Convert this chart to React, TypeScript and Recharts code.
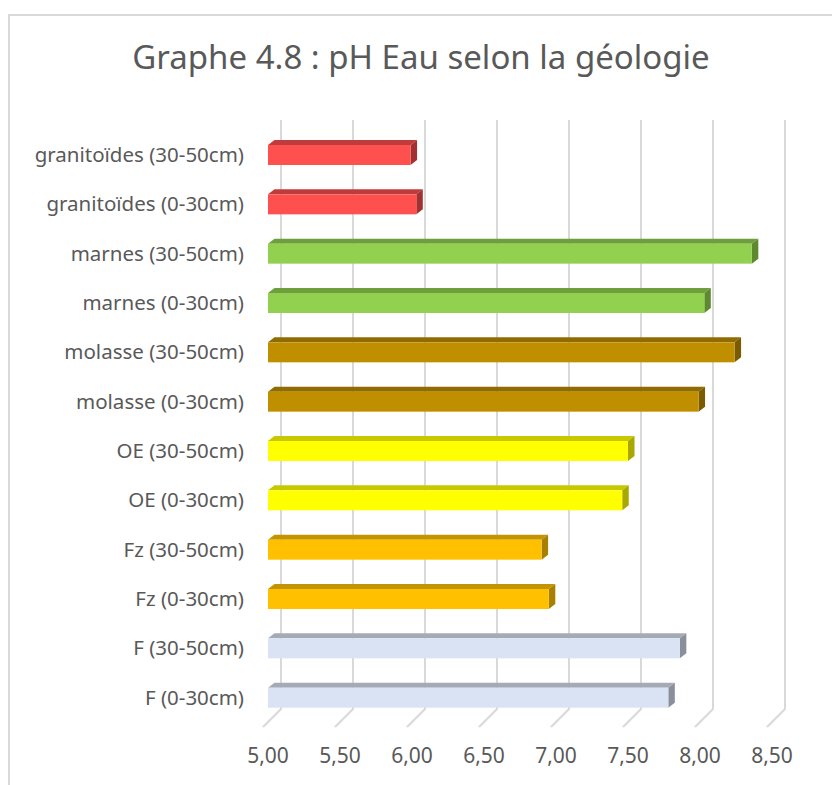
import { BarChart, Bar, XAxis, YAxis, CartesianGrid, Cell } from 'recharts';

// categories from top to bottom
const categories = [
  'granitoïdes (30-50cm)',
  'granitoïdes (0-30cm)',
  'marnes (30-50cm)',
  'marnes (0-30cm)',
  'molasse (30-50cm)',
  'molasse (0-30cm)',
  'OE (30-50cm)',
  'OE (0-30cm)',
  'Fz (30-50cm)',
  'Fz (0-30cm)',
  'F (30-50cm)',
  'F (0-30cm)',
];

const phEau = [5.99, 6.03, 8.36, 8.03, 8.24, 7.99, 7.5, 7.46, 6.9, 6.95, 7.86, 7.78];

const xTicks = [5, 5.5, 6, 6.5, 7, 7.5, 8, 8.5];

// front / top / side shades per geology
const palette = {
  granitoides: ['#FF5050', '#C03B3B', '#A33131'],
  marnes: ['#92D050', '#6F9E3C', '#5E8A2F'],
  molasse: ['#BF8F00', '#8F6B00', '#7A5B00'],
  OE: ['#FFFF00', '#C8C800', '#A8A800'],
  Fz: ['#FFC000', '#C49300', '#A88000'],
  F: ['#DAE3F3', '#A4AAB6', '#8A909B'],
};
const barColors = [
  palette.granitoides, palette.granitoides,
  palette.marnes, palette.marnes,
  palette.molasse, palette.molasse,
  palette.OE, palette.OE,
  palette.Fz, palette.Fz,
  palette.F, palette.F,
];

const data = categories.map((name, i) => ({ name, value: phEau[i], idx: i }));

const FONT = '"Noto Sans", sans-serif';
const TEXT = '#595959';
const DX = 6.5;
const DY = 5;

const Bar3D = (props: any) => {
  const { x, y, width, height, payload } = props;
  const [front, top, side] = barColors[payload.idx];
  return (
    <g>
      <polygon
        points={`${x},${y} ${x + DX},${y - DY} ${x + width + DX},${y - DY} ${x + width},${y}`}
        fill={top}
      />
      <polygon
        points={`${x + width},${y} ${x + width + DX},${y - DY} ${x + width + DX},${y + height - DY} ${x + width},${y + height}`}
        fill={side}
      />
      <rect x={x} y={y} width={width} height={height} fill={front} />
    </g>
  );
};

const GridLine = (props: any) => {
  const { x1, y1, y2, index } = props;
  const bx = x1 + 13;
  return (
    <polyline
      key={`gl-${index}`}
      points={`${bx},${y1 - 10} ${bx},${y2 - 13} ${x1 - 5},${y2 + 5}`}
      fill="none"
      stroke="#D9D9D9"
      strokeWidth={2}
    />
  );
};

export default function App() {
  return (
    <div
      style={{
        position: 'absolute',
        left: 8,
        top: 14,
        width: 824,
        height: 771,
        boxSizing: 'border-box',
        borderTop: '2px solid #D9D9D9',
        borderLeft: '2px solid #D9D9D9',
        background: '#fff',
        overflow: 'hidden',
      }}
    >
      <div
        style={{
          height: 100,
          paddingTop: 20,
          boxSizing: 'border-box',
          textAlign: 'center',
          fontFamily: FONT,
          fontSize: 33,
          lineHeight: '42px',
          color: TEXT,
        }}
      >
        Graphe 4.8 : pH Eau selon la géologie
      </div>
      <BarChart
        width={822}
        height={660}
        data={data}
        layout="vertical"
        margin={{ top: 14, right: 60, bottom: 4, left: 0 }}
        barCategoryGap={0}
      >
        <CartesianGrid horizontal={false} vertical={GridLine} />
        <XAxis
          type="number"
          domain={[5, 8.5]}
          ticks={xTicks}
          allowDataOverflow
          axisLine={false}
          tickLine={false}
          tickMargin={20}
          height={50}
          tickFormatter={(v: number) => v.toFixed(2).replace('.', ',')}
          tick={{ fill: TEXT, fontFamily: FONT, fontSize: 21 }}
        />
        <YAxis
          type="category"
          dataKey="name"
          width={258}
          axisLine={false}
          tickLine={false}
          tickMargin={18}
          interval={0}
          tick={{ fill: TEXT, fontFamily: FONT, fontSize: 20.5 }}
        />
        <Bar dataKey="value" barSize={20} shape={Bar3D} isAnimationActive={false}>
          {data.map((d) => (
            <Cell key={d.name} fill={barColors[d.idx][0]} />
          ))}
        </Bar>
      </BarChart>
    </div>
  );
}
